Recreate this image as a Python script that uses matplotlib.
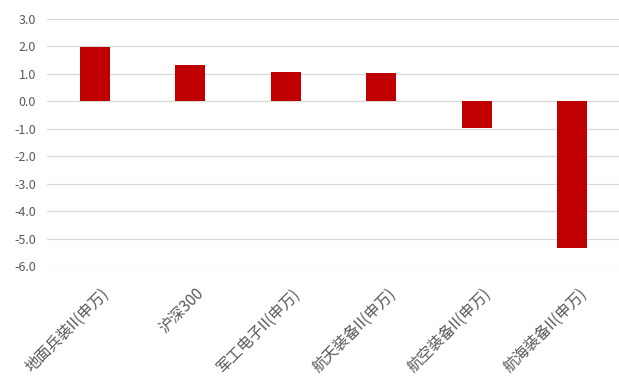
import matplotlib
matplotlib.use('Agg')
import matplotlib.pyplot as plt
import matplotlib.transforms as mtransforms
import numpy as np

categories = ['地面兵装II(申万)', '沪深300', '军工电子II(申万)', '航天装备II(申万)', '航空装备II(申万)', '航海装备II(申万)']
values = [1.98, 1.31, 1.07, 1.03, -0.98, -5.35]
yticks = [3.0, 2.0, 1.0, 0.0, -1.0, -2.0, -3.0, -4.0, -5.0, -6.0]

plt.rcParams['font.family'] = ['Noto Sans CJK SC', 'DejaVu Sans']

fig = plt.figure(figsize=(6.19, 3.79), dpi=100)
ax = fig.add_axes([47 / 619, 1 - 266 / 379, (620 - 47) / 619, (266 - 19) / 379])

x = np.arange(len(categories))
ax.bar(x, values, width=0.31, color='#c00000', zorder=3)

ax.set_ylim(-6.0, 3.0)
ax.set_xlim(-0.5, len(categories) - 0.5)
ax.set_yticks(yticks)
ax.set_yticklabels([f'{v:.1f}' for v in yticks], fontsize=9, color='#595959')
ax.yaxis.grid(True, color='#d9d9d9', linewidth=0.9, zorder=0)
ax.set_xticks(x)
ax.set_xticklabels(categories, rotation=45, ha='right', rotation_mode='anchor',
                   fontsize=11, color='#595959')
ax.tick_params(axis='both', length=0)
ax.tick_params(axis='x', pad=14)
ax.tick_params(axis='y', pad=8)
for s in ax.spines.values():
    s.set_visible(False)

# nudge category labels a little to the right
shift = mtransforms.ScaledTranslation(6 / 100, 0, fig.dpi_scale_trans)
for lbl in ax.get_xticklabels():
    lbl.set_transform(lbl.get_transform() + shift)

fig.savefig('out.png', dpi=100)
